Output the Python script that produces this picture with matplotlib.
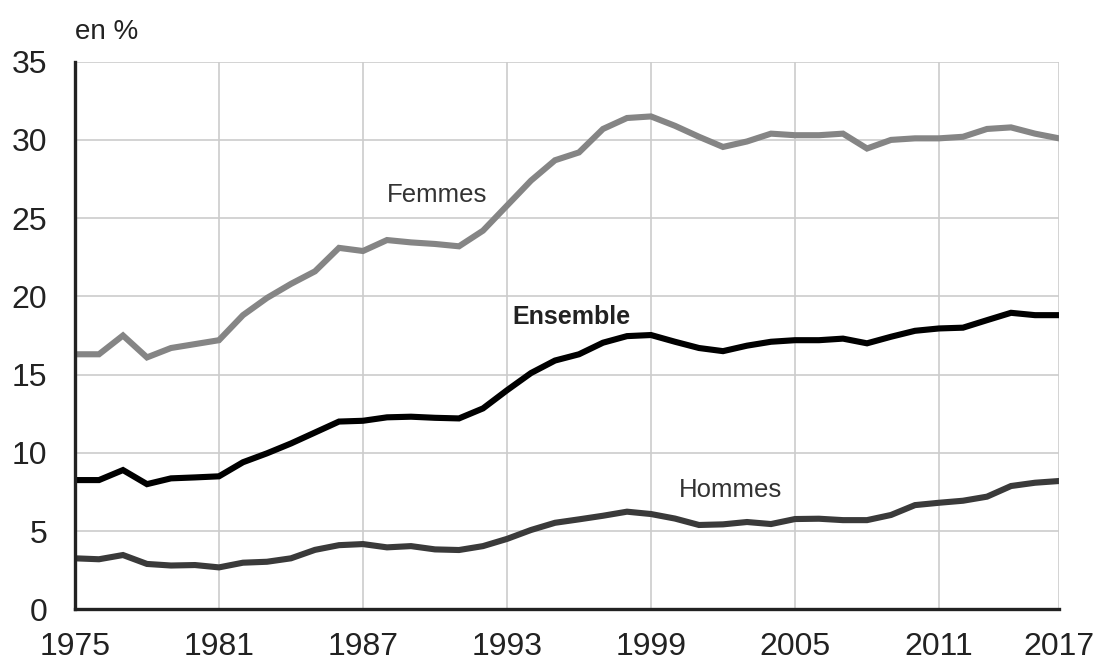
import matplotlib
matplotlib.use("Agg")
import matplotlib.pyplot as plt
import numpy as np

plt.rcParams['font.family'] = ['Liberation Sans', 'DejaVu Sans']

years = list(range(1975, 2017))

femmes = [16.3, 16.3, 17.5, 16.1, 16.7, 16.95, 17.2, 18.8, 19.9, 20.8,
          21.6, 23.1, 22.9, 23.6, 23.45, 23.35, 23.2, 24.2, 25.8, 27.4,
          28.7, 29.2, 30.7, 31.4, 31.5, 30.9, 30.2, 29.55, 29.9, 30.4,
          30.3, 30.3, 30.4, 29.45, 30.0, 30.1, 30.1, 30.2, 30.7, 30.8,
          30.4, 30.1]

ensemble = [8.26, 8.26, 8.9, 8.0, 8.37, 8.43, 8.5, 9.4, 9.97, 10.6,
            11.3, 12.0, 12.05, 12.27, 12.31, 12.24, 12.2, 12.84, 14.0, 15.1,
            15.9, 16.3, 17.04, 17.46, 17.53, 17.1, 16.7, 16.5, 16.85, 17.1,
            17.2, 17.2, 17.3, 17.0, 17.42, 17.8, 17.95, 18.0, 18.48, 18.95,
            18.8, 18.8]

hommes = [3.26, 3.2, 3.47, 2.9, 2.8, 2.83, 2.68, 2.98, 3.04, 3.26,
          3.8, 4.1, 4.17, 3.96, 4.04, 3.83, 3.79, 4.04, 4.5, 5.07,
          5.53, 5.75, 5.98, 6.24, 6.09, 5.8, 5.39, 5.43, 5.58, 5.45,
          5.77, 5.79, 5.7, 5.7, 6.03, 6.66, 6.81, 6.94, 7.2, 7.88,
          8.09, 8.2]

tick_years = [1975, 1981, 1987, 1993, 1999, 2005, 2011, 2016]
tick_labels = ["1975", "1981", "1987", "1993", "1999", "2005", "2011", "2017"]
y_ticks = [0, 5, 10, 15, 20, 25, 30, 35]

fig = plt.figure(figsize=(10.93, 6.66), dpi=100)
ax = fig.add_axes([0.0686, 0.0851, 0.9003, 0.8223])

ax.plot(years, femmes, color='#858585', lw=4.4, solid_joinstyle='miter', zorder=3)
ax.plot(years, ensemble, color='#000000', lw=4.4, solid_joinstyle='miter', zorder=4)
ax.plot(years, hommes, color='#3a3a3a', lw=4.4, solid_joinstyle='miter', zorder=3)

ax.set_xlim(1975, 2016)
ax.set_ylim(0, 35)
ax.set_xticks(tick_years)
ax.set_xticklabels(tick_labels)
ax.set_yticks(y_ticks)
ax.grid(True, color='#cccccc', lw=1.2, zorder=0)
ax.set_axisbelow(True)
ax.tick_params(axis='both', length=0, labelsize=23, colors='#222222')
ax.tick_params(axis='y', pad=20)
ax.tick_params(axis='x', pad=16)

for side in ['top', 'right']:
    ax.spines[side].set_visible(False)
for side in ['left', 'bottom']:
    ax.spines[side].set_color('#222222')
    ax.spines[side].set_linewidth(2.4)
    ax.spines[side].set_zorder(5)

ax.text(1990.1, 26.5, "Femmes", fontsize=18.5, color='#333333', ha='center', va='center')
ax.text(1995.7, 18.7, "Ensemble", fontsize=18, color='#222222', fontweight='bold', ha='center', va='center')
ax.text(2002.3, 7.6, "Hommes", fontsize=18.5, color='#333333', ha='center', va='center')

fig.text(75 / 1093, 1 - 32 / 666, "en %", fontsize=20, color='#222222', ha='left', va='center')

fig.savefig("out.png", dpi=100)
